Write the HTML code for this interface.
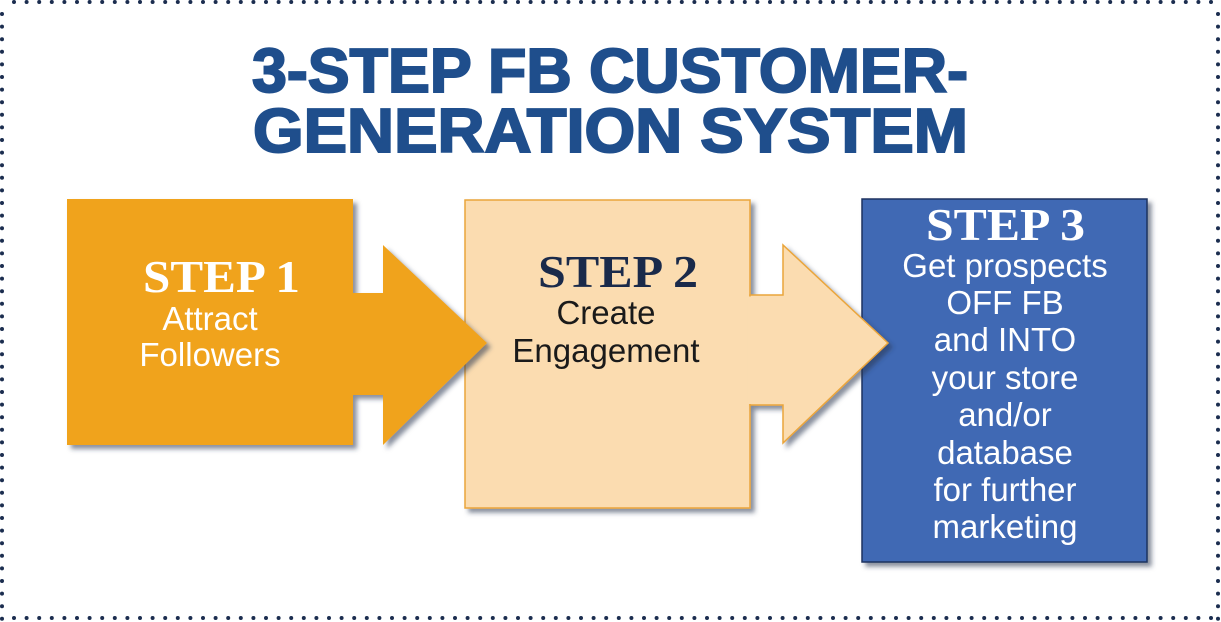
<!DOCTYPE html>
<html><head><meta charset="utf-8"><style>
html,body{margin:0;padding:0;background:#fff;}
svg{display:block}
</style></head><body>
<svg width="1221" height="622" viewBox="0 0 1221 622" xmlns="http://www.w3.org/2000/svg">
<defs>
<filter id="sh" x="-10%" y="-10%" width="130%" height="130%"><feDropShadow dx="4" dy="4" stdDeviation="2.5" flood-color="#2a3550" flood-opacity="0.55"/></filter>
</defs>
<g stroke="#1b2d4f" stroke-width="4" stroke-linecap="round" stroke-dasharray="0 12.6" fill="none">
<line x1="14" y1="2" x2="1221" y2="2"/>
<line x1="14" y1="618" x2="1221" y2="618"/>
<line x1="2" y1="14" x2="2" y2="622"/>
<line x1="1218" y1="14" x2="1218" y2="622"/>
</g>

<g font-family="'Liberation Sans',sans-serif" font-weight="bold" fill="#1f4e8c" font-size="62" stroke="#1f4e8c" stroke-width="2">
<text x="252" y="92" textLength="716" lengthAdjust="spacingAndGlyphs">3-STEP FB CUSTOMER-</text>
<text x="253" y="152" textLength="715" lengthAdjust="spacingAndGlyphs">GENERATION SYSTEM</text>
</g>

<rect filter="url(#sh)" x="465" y="200" width="285" height="308" fill="#fbdcb0" stroke="#eaa53a" stroke-width="1.5"/>
<polygon filter="url(#sh)" points="67,199 353,199 353,293 383,293 383,245 487,343 383,445 383,395 353,395 353,445 67,445" fill="#f0a31e"/>
<rect filter="url(#sh)" x="862" y="199" width="285" height="363" fill="#4069b4" stroke="#1e3360" stroke-width="1.5"/>
<polygon filter="url(#sh)" points="750,295 783,295 783,245 888,343 783,443 783,405 750,405" fill="#fbdcb0" stroke="#eaa53a" stroke-width="1.5"/>
<rect x="748" y="296.5" width="4" height="107.5" fill="#fbdcb0"/>

<g font-family="'Liberation Serif',serif" font-weight="bold" font-size="46">
<text x="143" y="292" textLength="157" lengthAdjust="spacingAndGlyphs" fill="#fff">STEP 1</text>
<text x="538" y="287" textLength="160" lengthAdjust="spacingAndGlyphs" fill="#1a2a4a">STEP 2</text>
<text x="926" y="240" textLength="159" lengthAdjust="spacingAndGlyphs" fill="#fff">STEP 3</text>
</g>
<g font-family="'Liberation Sans',sans-serif" font-size="33" text-anchor="middle">
<text x="210" y="330" fill="#fff">Attract</text>
<text x="210" y="366" fill="#fff">Followers</text>
<text x="606" y="324" fill="#1a1a1a">Create</text>
<text x="606" y="362" fill="#1a1a1a">Engagement</text>
<g fill="#fff">
<text x="1005" y="277">Get prospects</text>
<text x="1005" y="314">OFF FB</text>
<text x="1005" y="351">and INTO</text>
<text x="1005" y="389">your store</text>
<text x="1005" y="426">and/or</text>
<text x="1005" y="464">database</text>
<text x="1005" y="501">for further</text>
<text x="1005" y="538">marketing</text>
</g>
</g>
</svg>
</body></html>
